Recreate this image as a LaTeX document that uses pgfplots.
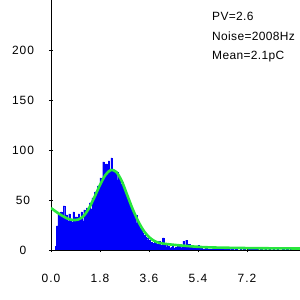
\documentclass[border=0pt]{standalone}
\usepackage{pgfplots}
\pgfplotsset{compat=1.18}
\usepackage{fontspec}
\setmainfont{Liberation Sans}
\newfontfamily\lab[LetterSpace=8]{Liberation Sans}
\newfontfamily\txt[LetterSpace=3]{Liberation Sans}
\definecolor{histblue}{RGB}{0,0,250}
\definecolor{fitgreen}{RGB}{40,230,60}
\begin{document}
\begin{tikzpicture}
\useasboundingbox (-51bp,-50bp) rectangle (249bp,250bp);
\begin{axis}[
  scale only axis,
  width=249bp, height=250bp,
  xmin=0, xmax=9.15, ymin=0, ymax=250,
  axis lines=left,
  axis line style={-, line width=0.8pt},
  xtick={0,1.8,3.6,5.4,7.2},
  xticklabels={0.0,1.8,3.6,5.4,7.2},
  ytick={0,50,100,150,200},
  tick align=center,
  major tick length=4bp,
  tick style={line width=0.8pt, black},
  xticklabel style={anchor=center, yshift=-26bp, font=\lab\fontsize{12}{12}\selectfont},
  yticklabel style={anchor=center, xshift=-26bp, font=\lab\fontsize{12}{12}\selectfont},
  /pgf/number format/assume math mode=true,
  clip=true,
]
\addplot[const plot, fill=histblue, draw=histblue, line width=0.2pt] table {
x y
0.10 0
0.15 4
0.20 24
0.25 36
0.30 34
0.35 38
0.40 31
0.45 44
0.50 33
0.55 35
0.60 29
0.65 36
0.70 31
0.75 28
0.80 38
0.85 27
0.90 33
0.95 22
1.00 36
1.05 31
1.10 38
1.15 29
1.20 40
1.25 34
1.30 42
1.35 38
1.40 47
1.45 41
1.50 52
1.55 45
1.60 58
1.65 50
1.70 64
1.75 60
1.80 72
1.85 68
1.90 88
1.95 80
2.00 86
2.05 84
2.10 89
2.15 79
2.20 92
2.25 78
2.30 80
2.35 74
2.40 78
2.45 70
2.50 72
2.55 66
2.60 68
2.65 60
2.70 58
2.75 55
2.80 52
2.85 46
2.90 47
2.95 40
3.00 39
3.05 33
3.10 35
3.15 27
3.20 26
3.25 22
3.30 20
3.35 17
3.40 15
3.45 13
3.50 12
3.55 10
3.60 10
3.65 8
3.70 7
3.75 6
3.80 8
3.85 5
3.90 6
3.95 9
4.00 4
4.05 5
4.10 12
4.15 4
4.20 6
4.25 3
4.30 4
4.35 2
4.40 3
4.45 4
4.50 2
4.55 3
4.60 2
4.65 5
4.70 3
4.75 4
4.80 2
4.85 9
4.90 5
4.95 10
5.00 3
5.05 6
5.10 3
5.15 2
5.20 4
5.25 1
5.30 2
5.35 3
5.40 5
5.45 2
5.50 4
5.55 1
5.60 1
5.65 2
5.70 3
5.75 1
5.80 0
5.85 1
5.90 1
5.95 0
6.00 2
6.05 1
6.10 3
6.15 1
6.20 0
6.25 2
6.30 1
6.35 0
6.40 1
6.45 3
6.50 0
6.55 2
6.60 0
6.65 1
6.70 0
6.75 1
6.80 1
6.85 0
6.90 0
6.95 1
7.00 0
7.05 1
7.10 1
7.15 0
7.20 0
7.25 2
7.30 1
7.35 0
7.40 3
7.45 1
7.50 0
7.55 1
7.60 0
7.65 0
7.70 1
7.75 0
7.80 0
7.85 1
7.90 0
7.95 0
8.00 1
8.05 0
8.10 0
8.15 1
8.20 0
8.25 0
8.30 1
8.35 0
8.40 0
8.45 0
8.50 1
8.55 0
8.60 0
8.65 1
8.70 0
8.75 0
8.80 2
8.85 0
8.90 0
8.95 1
9.00 0
9.05 0
9.15 0
} \closedcycle;
\addplot[fitgreen, line width=2.6bp, smooth] table {
x y
0.0 42
0.2 38
0.4 34.5
0.6 31.5
0.8 30
1.0 30.5
1.2 34
1.4 42
1.6 53
1.8 65
2.0 75
2.2 80
2.4 78
2.6 69
2.8 55
3.0 41
3.2 29
3.4 19.5
3.6 13
3.8 9
4.0 7
4.4 5.5
5.0 4
5.5 3
6.0 2.5
7.0 2
8.0 1.7
9.15 1.5
};
\end{axis}
\begin{scope}[font=\txt\fontsize{12}{12}\selectfont]
\node[anchor=base west, inner sep=0pt] at (161bp,229bp) {PV=2.6};
\node[anchor=base west, inner sep=0pt] at (161bp,209bp) {Noise=2008Hz};
\node[anchor=base west, inner sep=0pt] at (161bp,190bp) {Mean=2.1pC};
\end{scope}
\end{tikzpicture}
\end{document}
